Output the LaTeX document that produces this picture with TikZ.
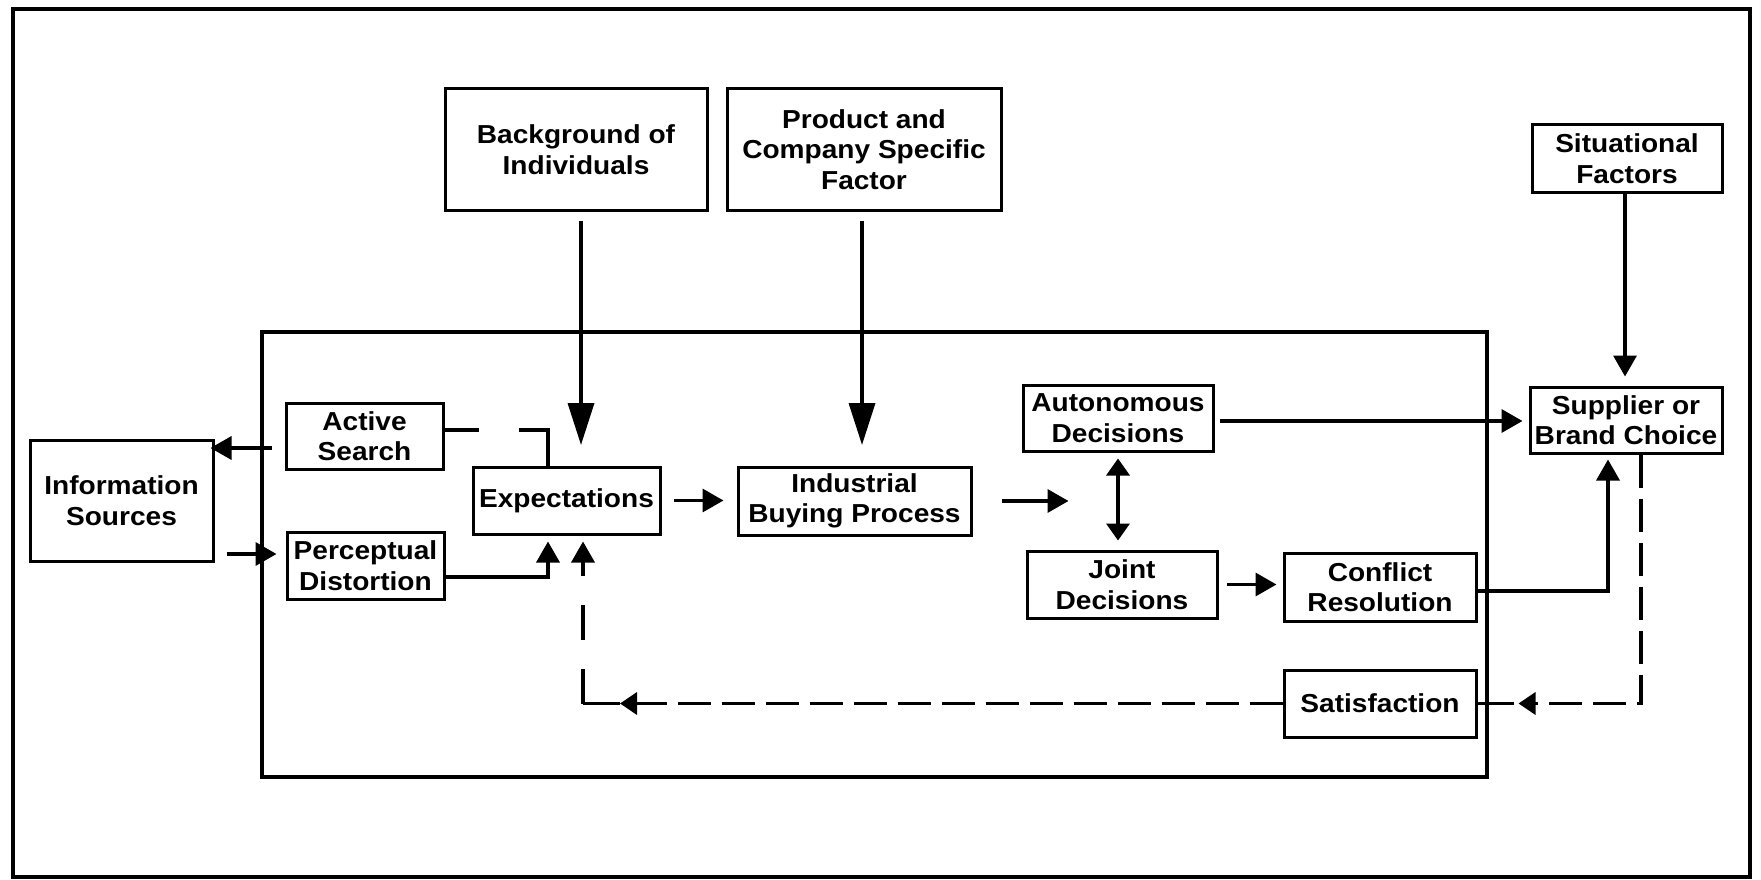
\documentclass[tikz,border=0pt]{standalone}
\usepackage{fontspec}
\setmainfont[FakeStretch=1.08]{Liberation Sans}
\usetikzlibrary{arrows.meta,calc}
\begin{document}
\begin{tikzpicture}[x=1pt,y=-1pt,
  box/.style={draw, line width=3pt, align=center, inner sep=0pt, font=\bfseries\fontsize{26}{30.5}\selectfont},
  conn/.style={line width=3.5pt, -{Triangle[length=21pt,width=23pt]}},
  bigconn/.style={line width=3.5pt, -{Triangle[length=42pt,width=26pt]}},
  dconn/.style={conn, dash pattern=on 33pt off 11pt},
]
\useasboundingbox (0,0) rectangle (1761,880);
\draw[line width=4.5pt] (13,9) rectangle (1750,877);
\draw[line width=4pt] (262,332) rectangle (1487,777);

\node[box, minimum width=262pt, minimum height=121pt] (bg) at (576,149.5) {Background of\\Individuals};
\node[box, minimum width=274pt, minimum height=121pt] (pc) at (864,149.5) {Product and\\Company Specific\\Factor};
\node[box, minimum width=190pt, minimum height=67pt] (sf) at (1627,158.5) {Situational\\Factors};
\node[box, minimum width=192pt, minimum height=66pt] (sb) at (1626,420) {Supplier or\\Brand Choice};
\node[box, minimum width=157pt, minimum height=66pt] (as) at (364.5,436) {Active\\Search};
\node[box, minimum width=183pt, minimum height=121pt] (is) at (121.5,500.5) {Information\\Sources};
\node[box, minimum width=157pt, minimum height=67pt] (pd) at (365.5,565.5) {Perceptual\\Distortion};
\node[box, minimum width=187pt, minimum height=67pt] (ex) at (566.5,500.5) {Expectations};
\node[box, minimum width=233pt, minimum height=68pt] (ib) at (854.5,501) {Industrial\\Buying Process};
\node[box, minimum width=190pt, minimum height=66pt] (ad) at (1118,418) {Autonomous\\Decisions};
\node[box, minimum width=190pt, minimum height=67pt] (jd) at (1122,584.5) {Joint\\Decisions};
\node[box, minimum width=192pt, minimum height=68pt] (cr) at (1380,587) {Conflict\\Resolution};
\node[box, minimum width=192pt, minimum height=67pt] (sa) at (1380,703.5) {Satisfaction};

% top factors
\coordinate (bgtip) at (581,445);
\draw[bigconn] ([xshift=5pt,yshift=-9pt]bg.south) -- (bgtip);
\coordinate (pctip) at (862,445);
\draw[bigconn] ([xshift=-2pt,yshift=-9pt]pc.south) -- (pctip);
\draw[conn, shorten >=9pt] ([xshift=-2pt]sf.south) -- ([xshift=-2pt]sf.south |- sb.north);

% decisions
\draw[conn, shorten <=5pt, shorten >=6pt] ([yshift=-3pt]ad.east) -- ([yshift=-3pt]ad.east -| sb.west);
\draw[line width=3.5pt, {Triangle[length=17pt,width=23pt]}-{Triangle[length=17pt,width=23pt]}, shorten <=6pt, shorten >=9pt] (ad.south) -- (ad.south |- jd.north);
\coordinate (ibtip) at ([xshift=96pt]ib.east);
\draw[conn, shorten <=29pt] (ib.east) -- (ibtip);
\draw[conn, shorten <=12pt, shorten >=13pt] (ex.east) -- (ex.east -| ib.west);
\draw[conn, shorten <=8pt, shorten >=6pt] (jd.east) -- (jd.east -| cr.west);
\draw[conn, shorten >=5pt] ([yshift=-4pt]cr.east) -| ([xshift=-18pt]sb.south);

% supplier -> satisfaction (dashed)
\coordinate (d1) at ([xshift=15pt]sb.south);
\coordinate (d2) at (d1 |- sa.east);
\coordinate (d3) at ([xshift=41pt]sa.east);
\draw[dconn, -{Triangle[length=17pt,width=22pt]}] (d1) -- (d2) -- (d3);
\draw[line width=3.5pt] (sa.east) -- ([xshift=-5pt]d3);

% satisfaction -> expectations (dashed)
\coordinate (f2) at ([xshift=16.5pt]ex.south |- sa.west);
\coordinate (f1) at ([xshift=37pt]f2);
\draw[dconn, -{Triangle[length=17pt,width=22pt]}] (sa.west) -- (f1);
\draw[line width=3.5pt] (f1) -- (f2);
\draw[conn, dash pattern=on 35pt off 29pt, shorten >=6pt] (f2) -- (f2 |- ex.south);

% active search -> expectations (dashed)
\coordinate (a1) at ([yshift=6pt]as.east);
\coordinate (a2) at ([xshift=-18.5pt]ex.north |- a1);
\draw[line width=3.5pt, dash pattern=on 34pt off 40pt on 300pt off 0pt] (a1) -- (a2) -- (a2 |- ex.north);

% information flows
\draw[conn, shorten >=9pt] ([xshift=-13pt,yshift=-12pt]as.west) -- ([xshift=-13pt,yshift=-12pt]as.west -| is.east);
\draw[conn, shorten <=12pt, shorten >=9pt] ([yshift=11.5pt]pd.west -| is.east) -- ([yshift=11.5pt]pd.west);
\draw[conn, shorten >=6pt] ([yshift=-11.5pt]pd.east) -| ([xshift=-18.5pt]ex.south);
\end{tikzpicture}
\end{document}
